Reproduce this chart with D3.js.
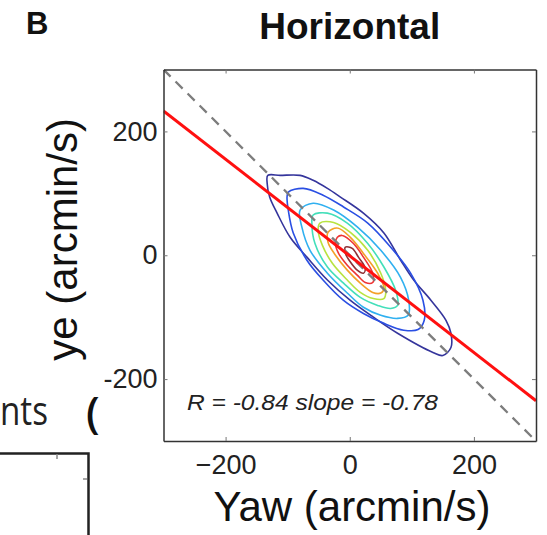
<!DOCTYPE html>
<html>
<head>
<meta charset="utf-8">
<script src="https://cdn.jsdelivr.net/npm/d3@7"></script>
<style>
  body { margin: 0; background: #fff; }
  svg { font-family: "Liberation Sans", Arial, sans-serif; }
</style>
</head>
<body>
<div id="container"></div>
<script>
// ticks
var xTicks = [-200, 0, 200];
var xTickLabels = ["\u2212200", "0", "200"];
var yTicks = [200, 0, -200];
var yTickLabels = ["200", "0", "-200"];

// fit line and identity line
var fitSlope = -0.78;
var fitIntercept = -1;
var fitR = -0.84;
var identitySlope = -1;

// density contours (outer -> inner), vertices in arcmin/s
var contour1 = [[-132,129],[-112,129],[-80,129],[-59,121],[-36,108],[-15,94],[22,68],[55,36],[82,-8],[103,-40],[131,-73],[155,-105],[163,-126],[163,-149],[150,-162],[134,-157],[77,-126],[38,-100],[1,-73],[-36,-40],[-69,-3],[-96,29],[-117,68],[-129,94],[-133,116]];
var contour2 = [[-99,102],[-75,108],[-43,97],[-10,78],[29,52],[66,13],[98,-29],[118,-73],[120,-105],[110,-120],[87,-121],[55,-110],[22,-94],[-10,-73],[-43,-40],[-69,-8],[-91,36],[-99,73],[-101,94]];
var contour3 = [[-80,73],[-59,84],[-26,73],[13,45],[50,8],[82,-36],[95,-73],[94,-97],[77,-102],[50,-97],[22,-84],[-4,-61],[-36,-29],[-64,8],[-77,45]];
var contour4 = [[-59,65],[-36,68],[-4,52],[29,19],[55,-19],[74,-57],[77,-81],[66,-86],[45,-81],[17,-68],[-10,-45],[-36,-19],[-56,19],[-61,52]];
var contour5 = [[-48,52],[-26,53],[1,37],[29,8],[50,-29],[58,-57],[55,-70],[38,-70],[17,-60],[-4,-40],[-28,-13],[-44,16],[-51,40]];
var contour6 = [[-35,37],[-20,44],[1,29],[22,3],[45,-29],[55,-53],[50,-61],[37,-60],[17,-45],[-4,-24],[-23,0],[-35,21]];
var contour7 = [[-20,29],[-12,32],[6,19],[22,-3],[37,-29],[37,-44],[25,-44],[12,-32],[-4,-16],[-18,3],[-23,19]];
var contour8 = [[-7,13],[4,11],[14,-3],[25,-21],[22,-29],[12,-24],[1,-11],[-7,3]];

var contours = [contour1, contour2, contour3, contour4, contour5, contour6, contour7, contour8];
var contourColors = ["#35359c", "#2a4fe3", "#30b0f0", "#43dfba", "#b8e340", "#f4a028", "#ee3535", "#8e3035"];

var width = 547;
var height = 535;
var margin = {left: 163.5, top: 69.5, right: 11, bottom: 94};

const svg = d3.select("#container")
              .append("svg")
              .attr("width", width)
              .attr("height", height);

var xScale = d3.scaleLinear()
               .domain([-300, 300])
               .range([margin.left, width - margin.right]);

var yScale = d3.scaleLinear()
               .domain([-300, 300])
               .range([height - margin.bottom, margin.top]);

// clip for plot area
svg.append("clipPath")
   .attr("id", "plotclip")
   .append("rect")
   .attr("x", xScale(-300))
   .attr("y", yScale(300))
   .attr("width", xScale(300) - xScale(-300))
   .attr("height", yScale(-300) - yScale(300));

var plot = svg.append("g").attr("clip-path", "url(#plotclip)");

// contours
var contourLine = d3.line()
                    .x(d => xScale(d[0]))
                    .y(d => yScale(d[1]))
                    .curve(d3.curveCatmullRomClosed.alpha(0.5));

plot.selectAll(".contour")
    .data(contours)
    .enter()
    .append("path")
    .attr("class", "contour")
    .attr("d", d => contourLine(d))
    .attr("fill", "none")
    .attr("stroke", (d, i) => contourColors[i])
    .attr("stroke-width", 1.6);

// identity (dashed) line
plot.append("line")
    .attr("x1", xScale(-300))
    .attr("y1", yScale(identitySlope * -300))
    .attr("x2", xScale(300))
    .attr("y2", yScale(identitySlope * 300))
    .attr("stroke", "#7d7d7d")
    .attr("stroke-width", 2.3)
    .attr("stroke-dasharray", "10,7");

// regression line
plot.append("line")
    .attr("x1", xScale(-300))
    .attr("y1", yScale(fitSlope * -300 + fitIntercept))
    .attr("x2", xScale(300))
    .attr("y2", yScale(fitSlope * 300 + fitIntercept))
    .attr("stroke", "#ff1010")
    .attr("stroke-width", 3);

// axes (MATLAB style box with inward ticks)
var xAxis = d3.axisBottom(xScale).tickValues(xTicks).tickSizeInner(-4).tickSizeOuter(0)
              .tickFormat((d, i) => xTickLabels[i]).tickPadding(14);
var xAxisTop = d3.axisTop(xScale).tickValues(xTicks).tickSizeInner(-4).tickSizeOuter(0).tickFormat("");
var yAxis = d3.axisLeft(yScale).tickValues(yTicks).tickSizeInner(-4).tickSizeOuter(0)
              .tickFormat((d, i) => yTickLabels[i]).tickPadding(6);
var yAxisRight = d3.axisRight(yScale).tickValues(yTicks).tickSizeInner(-4).tickSizeOuter(0).tickFormat("");

svg.append("g").attr("transform", "translate(0," + yScale(-300) + ")").call(xAxis);
svg.append("g").attr("transform", "translate(0," + yScale(300) + ")").call(xAxisTop);
svg.append("g").attr("transform", "translate(" + xScale(-300) + ",0)").call(yAxis);
svg.append("g").attr("transform", "translate(" + xScale(300) + ",0)").call(yAxisRight);

svg.selectAll(".domain").attr("stroke", "#333").attr("stroke-width", 1.5);
svg.selectAll(".tick line").attr("stroke", "#777");
svg.selectAll(".tick text")
   .attr("fill", "#222")
   .style("font-size", "27px")
   .style("font-family", "Liberation Sans, Arial, sans-serif");

// stats text
svg.append("text")
   .attr("x", 187)
   .attr("y", 410)
   .style("font-size", "22px")
   .style("font-style", "italic")
   .attr("fill", "#222")
   .attr("textLength", 251)
   .attr("lengthAdjust", "spacingAndGlyphs")
   .text("R = " + fitR.toFixed(2) + " slope = " + fitSlope.toFixed(2));

// title
svg.append("text")
   .attr("x", (xScale(-300) + xScale(300)) / 2)
   .attr("y", 39)
   .attr("text-anchor", "middle")
   .style("font-size", "37px")
   .style("font-weight", "bold")
   .attr("fill", "#111")
   .text("Horizontal");

// panel letter
svg.append("text")
   .attr("x", 26)
   .attr("y", 34)
   .style("font-size", "31px")
   .style("font-weight", "bold")
   .attr("fill", "#111")
   .text("B");

// axis labels
svg.append("text")
   .attr("x", 352)
   .attr("y", 521)
   .attr("text-anchor", "middle")
   .style("font-size", "42px")
   .attr("fill", "#111")
   .text("Yaw (arcmin/s)");

svg.append("text")
   .attr("transform", "translate(77,118) rotate(-90)")
   .attr("text-anchor", "end")
   .style("font-size", "42px")
   .attr("fill", "#111")
   .text("ye (arcmin/s)");

// neighbouring panel fragments
svg.append("text")
   .attr("x", 48)
   .attr("y", 425)
   .attr("text-anchor", "end")
   .style("font-family", "Open Sans, sans-serif")
   .style("font-size", "40px")
   .attr("textLength", 48)
   .attr("lengthAdjust", "spacingAndGlyphs")
   .attr("fill", "#222")
   .text("nts");

svg.append("text")
   .attr("x", 86)
   .attr("y", 428)
   .style("font-family", "Open Sans, sans-serif")
   .style("font-size", "43px")
   .style("font-weight", "600")
   .attr("fill", "#111")
   .text("(");

svg.append("path")
   .attr("d", "M0,453.5H88.5V535")
   .attr("fill", "none")
   .attr("stroke", "#222")
   .attr("stroke-width", 2.5);
svg.append("path")
   .attr("d", "M57,454V459M87,479H83")
   .attr("stroke", "#888")
   .attr("stroke-width", 1.5);
</script>
</body>
</html>
